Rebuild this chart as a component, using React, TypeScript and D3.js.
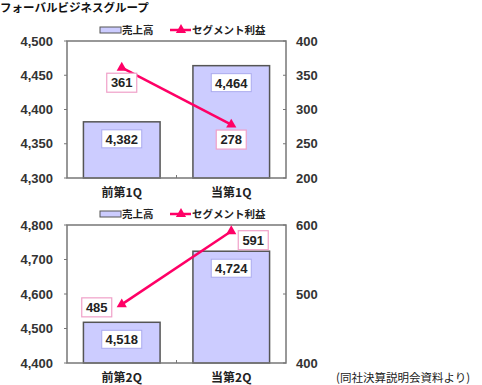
import React from 'react';
import * as d3 from 'd3';

// DATA
const title = 'フォーバルビジネスグループ';
const note = '(同社決算説明会資料より)';
const legendBar = '売上高';
const legendLine = 'セグメント利益';

const categories1 = ['前第1Q', '当第1Q'];
const sales1 = [4382, 4464];
const profit1 = [361, 278];
const leftTicks1 = [4300, 4350, 4400, 4450, 4500];
const rightTicks1 = [200, 250, 300, 350, 400];

const categories2 = ['前第2Q', '当第2Q'];
const sales2 = [4518, 4724];
const profit2 = [485, 591];
const leftTicks2 = [4400, 4500, 4600, 4700, 4800];
const rightTicks2 = [400, 500, 600];

const FONT = '"Liberation Sans", Arial, "Noto Sans CJK JP", sans-serif';
const JFONT = '"Noto Sans CJK JP", "Liberation Sans", sans-serif';
const fmt = d3.format(',');

type PanelProps = {
  top: number;
  bottom: number;
  categories: string[];
  sales: number[];
  profit: number[];
  leftTicks: number[];
  rightTicks: number[];
  labelOffsets: [number, number][];
};

function Panel(p: PanelProps) {
  const left = 67, right = 286;
  const x = d3.scaleBand().domain(p.categories).range([left, right]).paddingInner(0.3).paddingOuter(0.15);
  const yL = d3.scaleLinear().domain(d3.extent(p.leftTicks) as [number, number]).range([p.bottom, p.top]);
  const yR = d3.scaleLinear().domain(d3.extent(p.rightTicks) as [number, number]).range([p.bottom, p.top]);
  const cx = (c: string) => (x(c) as number) + x.bandwidth() / 2;
  const line = d3.line<number>().x((_, i) => cx(p.categories[i])).y(d => yR(d));
  const tri = d3.symbol().type(d3.symbolTriangle).size(45);
  const legY = p.top - 11;

  return (
    <g>
      {/* legend */}
      <rect x={100} y={legY - 3} width={21} height={6} fill="#ccccff" stroke="#555" strokeWidth={1} />
      <text x={122} y={legY + 4} fontSize={10.5} fontWeight="bold" fontFamily={JFONT} fill="#222">{legendBar}</text>
      <line x1={170} x2={191} y1={legY} y2={legY} stroke="#ff0066" strokeWidth={2.5} />
      <path d={tri() as string} transform={`translate(181,${legY})`} fill="#ff0066" />
      <text x={192} y={legY + 4} fontSize={10.5} fontWeight="bold" fontFamily={JFONT} fill="#222">{legendLine}</text>

      {/* bars */}
      {p.categories.map((c, i) => (
        <rect key={c} x={x(c)} y={yL(p.sales[i])} width={x.bandwidth()} height={p.bottom - yL(p.sales[i])}
          fill="#ccccff" stroke="#555" strokeWidth={1.5} />
      ))}

      {/* plot frame */}
      <rect x={left} y={p.top} width={right - left} height={p.bottom - p.top} fill="none" stroke="#777" strokeWidth={1.5} />
      <line x1={(left + right) / 2} x2={(left + right) / 2} y1={p.bottom} y2={p.bottom - 3} stroke="#777" />

      {/* left axis */}
      {p.leftTicks.map(t => (
        <g key={t}>
          <line x1={left - 3} x2={left} y1={yL(t)} y2={yL(t)} stroke="#777" />
          <text x={53} y={yL(t) + 4.5} textAnchor="end" fontSize={13} fontWeight="bold" fontFamily={FONT} fill="#333">{fmt(t)}</text>
        </g>
      ))}
      {/* right axis */}
      {p.rightTicks.map(t => (
        <g key={t}>
          <line x1={right - 3} x2={right} y1={yR(t)} y2={yR(t)} stroke="#777" />
          <text x={296} y={yR(t) + 4.5} fontSize={13} fontWeight="bold" fontFamily={FONT} fill="#333">{t}</text>
        </g>
      ))}
      {/* categories */}
      {p.categories.map(c => (
        <text key={c} x={cx(c)} y={p.bottom + 19} textAnchor="middle" fontSize={12} fontWeight="bold" fontFamily={JFONT} fill="#222">{c}</text>
      ))}

      {/* bar labels */}
      {p.categories.map((c, i) => (
        <g key={c}>
          <rect x={cx(c) - 20} y={yL(p.sales[i]) + 8} width={40} height={18} fill="#fff" stroke="#aaaaee" strokeWidth={1} />
          <text x={cx(c)} y={yL(p.sales[i]) + 22} textAnchor="middle" fontSize={13} fontWeight="bold" fontFamily={FONT} fill="#222">{fmt(p.sales[i])}</text>
        </g>
      ))}

      {/* line */}
      <path d={line(p.profit) as string} fill="none" stroke="#ff0066" strokeWidth={2.5} />
      {p.profit.map((v, i) => (
        <path key={i} d={tri() as string} transform={`translate(${cx(p.categories[i])},${yR(v)})`} fill="#ff0066" />
      ))}
      {p.profit.map((v, i) => {
        const lx = cx(p.categories[i]) + p.labelOffsets[i][0];
        const ly = yR(v) + p.labelOffsets[i][1];
        return (
          <g key={i}>
            <rect x={lx - 15} y={ly - 9.5} width={30} height={19} fill="#fff" stroke="#f0a0c8" strokeWidth={1.2} />
            <text x={lx} y={ly + 4.5} textAnchor="middle" fontSize={13} fontWeight="bold" fontFamily={FONT} fill="#222">{v}</text>
          </g>
        );
      })}
    </g>
  );
}

export default function App() {
  return (
    <svg width={482} height={385} style={{ position: 'absolute', left: 0, top: 0, background: '#fff' }}>
      <rect width={482} height={385} fill="#fff" />
      <text x={0} y={12} fontSize={11.5} fontWeight="bold" fontFamily={JFONT} fill="#111">{title}</text>
      <Panel top={41} bottom={178} categories={categories1} sales={sales1} profit={profit1}
        leftTicks={leftTicks1} rightTicks={rightTicks1} labelOffsets={[[0, 15], [0, 15]]} />
      <Panel top={225} bottom={363} categories={categories2} sales={sales2} profit={profit2}
        leftTicks={leftTicks2} rightTicks={rightTicks2} labelOffsets={[[-25, 3], [22, 9]]} />
      <text x={336} y={382} fontSize={11.5} fontFamily={JFONT} fill="#222">{note}</text>
    </svg>
  );
}
